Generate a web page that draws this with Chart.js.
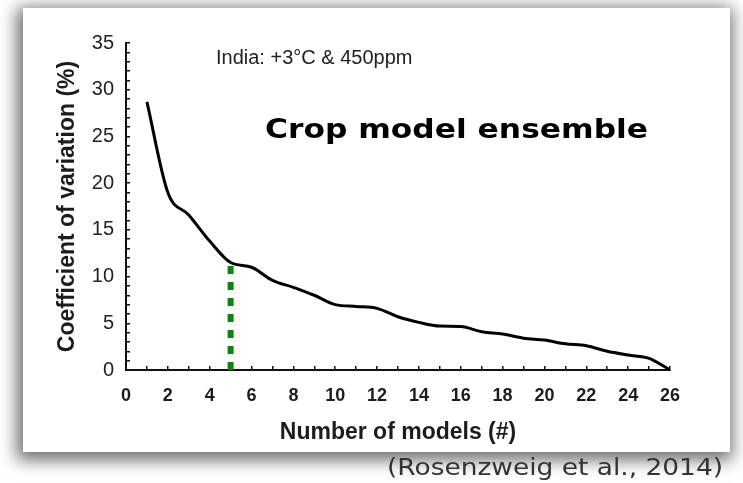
<!DOCTYPE html>
<html>
<head>
<meta charset="utf-8">
<script src="https://cdn.jsdelivr.net/npm/chart.js@4.4.1/dist/chart.umd.min.js"></script>
<style>
  html, body { margin: 0; padding: 0; background: #fff; }
  body { width: 743px; height: 483px; position: relative; overflow: hidden; }
  #panel {
    position: absolute; left: 23px; top: 8px; width: 707px; height: 444px;
    background: #fff; box-shadow: -2px 4px 16px 4px rgba(0, 0, 0, 0.58);
  }
  #cvChart { position: absolute; left: 0; top: 0; }
</style>
</head>
<body>
<div id="panel"></div>
<canvas id="cvChart" width="743" height="483"></canvas>
<script>
// number of models in the ensemble vs. coefficient of variation (%)
const models = [1, 2, 3, 4, 5, 6, 7, 8, 9, 10, 11, 12, 13, 14, 15, 16, 17, 18, 19, 20, 21, 22, 23, 24, 25, 26];
const cvValues = [28.7, 19.0, 16.6, 13.8, 11.5, 11.0, 9.6, 8.85, 8.0, 7.0, 6.8, 6.6, 5.7, 5.1, 4.7, 4.65, 4.1, 3.85, 3.4, 3.2, 2.8, 2.6, 2.0, 1.6, 1.25, 0];
const xLabelEvery = 2;
const yLabelEvery = 5;
const markerModels = 5;
const markerCv = 11.5;

const labelFont = '"Liberation Sans", Arial, sans-serif';

// draws text squeezed/stretched to a given width
function fitText(ctx, text, x, y, width, font, color) {
  ctx.save();
  ctx.font = font;
  ctx.fillStyle = color;
  const w = ctx.measureText(text).width;
  ctx.translate(x, y);
  ctx.scale(width / w, 1);
  ctx.fillText(text, 0, 0);
  ctx.restore();
}

const notes = {
  id: 'notes',
  afterDraw(chart) {
    const ctx = chart.ctx;
    ctx.save();
    ctx.textBaseline = 'alphabetic';
    ctx.textAlign = 'left';
    ctx.fillStyle = '#222';
    ctx.font = '20px ' + labelFont;
    ctx.fillText('India: +3°C & 450ppm', 216, 64);
    fitText(ctx, 'Crop model ensemble', 265, 138, 383, 'bold 27px "DejaVu Sans", Verdana, sans-serif', '#000');
    fitText(ctx, '(Rosenzweig et al., 2014)', 387, 475, 336, '23px "DejaVu Sans", Verdana, sans-serif', '#333');
    ctx.restore();
  }
};

new Chart(document.getElementById('cvChart').getContext('2d'), {
  type: 'line',
  data: {
    datasets: [
      {
        data: [{ x: markerModels, y: 0 }, { x: markerModels, y: markerCv }],
        borderColor: '#0b870b',
        borderWidth: 6,
        borderDash: [8, 8],
        borderCapStyle: 'butt',
        pointRadius: 0,
        fill: false
      },
      {
        data: models.map((m, i) => ({ x: m, y: cvValues[i] })),
        borderColor: '#000',
        borderWidth: 3,
        cubicInterpolationMode: 'monotone',
        pointRadius: 0,
        fill: false
      }
    ]
  },
  options: {
    responsive: false,
    animation: false,
    layout: { padding: { top: 43, right: 73, bottom: 0, left: 0 } },
    plugins: { legend: { display: false }, tooltip: { enabled: false } },
    scales: {
      x: {
        type: 'linear',
        min: 0,
        max: 26,
        afterFit(scale) { scale.height = 113; },
        border: { display: true, color: '#111', width: 2 },
        grid: { drawOnChartArea: false, drawTicks: true, tickLength: -4, color: '#111', lineWidth: 1.5 },
        ticks: {
          stepSize: 1,
          autoSkip: false,
          maxRotation: 0,
          padding: 19,
          color: '#1c1c1c',
          font: { family: labelFont, size: 18, weight: 'bold' },
          callback: v => (v % xLabelEvery === 0 ? String(v) : '')
        },
        title: {
          display: true,
          text: 'Number of models (#)',
          color: '#1c1c1c',
          font: { family: labelFont, size: 23, weight: 'bold' },
          padding: { top: 0, bottom: 37 }
        }
      },
      y: {
        min: 0,
        max: 35,
        afterFit(scale) { scale.width = 126; },
        border: { display: true, color: '#111', width: 2 },
        grid: { drawOnChartArea: false, drawTicks: true, tickLength: -4, color: '#111', lineWidth: 1.5 },
        ticks: {
          stepSize: 1,
          autoSkip: false,
          padding: 16,
          color: '#222',
          font: { family: labelFont, size: 20 },
          callback: v => (v % yLabelEvery === 0 ? String(v) : '')
        },
        title: {
          display: true,
          text: 'Coefficient of variation (%)',
          color: '#1c1c1c',
          font: { family: labelFont, size: 23, weight: 'bold' },
          padding: { top: 54, bottom: 0 }
        }
      }
    }
  },
  plugins: [notes]
});
</script>
</body>
</html>
